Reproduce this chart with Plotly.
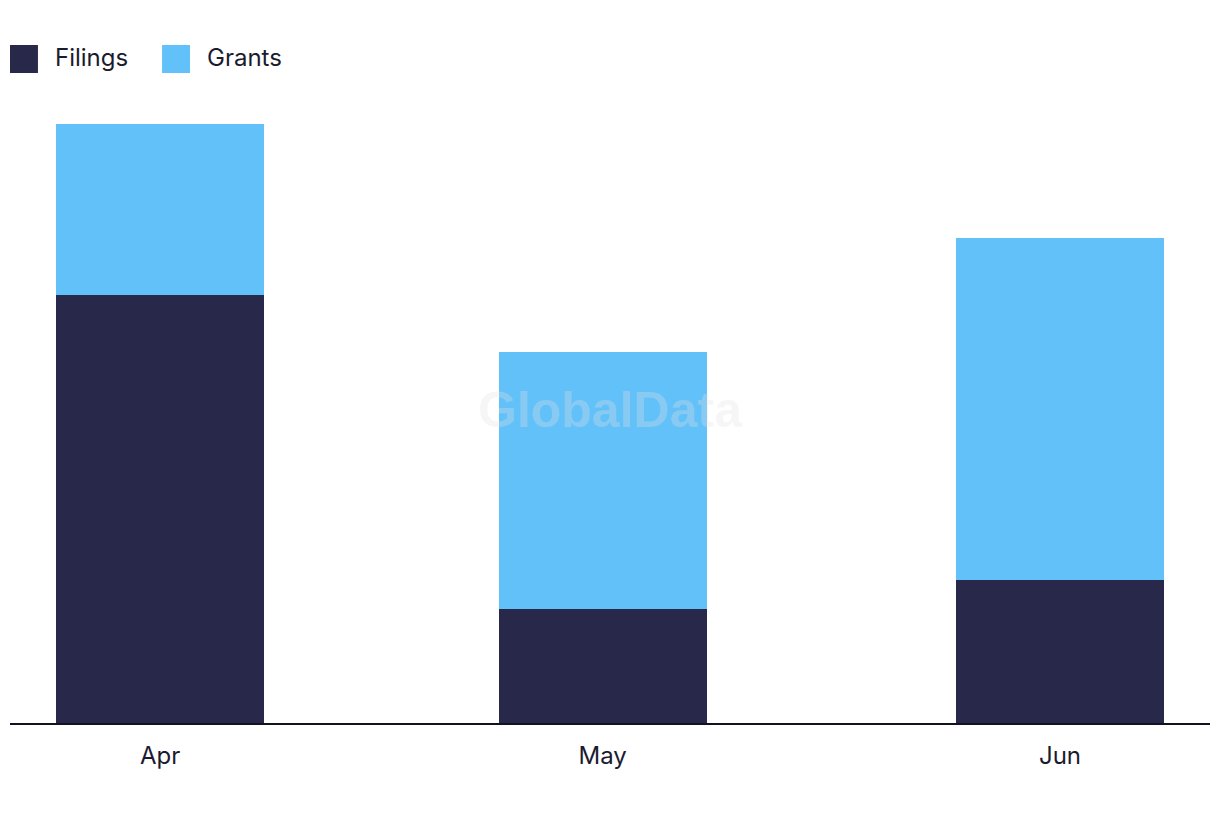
import plotly.graph_objects as go

months = ["2023-04-01", "2023-05-01", "2023-06-01"]
filings = [15, 4, 5]
grants = [6, 9, 12]
series_names = ["Filings", "Grants"]
colors = ["#28284b", "#62c1f9"]

bar_width_ms = 14.1 * 86400000

fig = go.Figure()
fig.add_trace(go.Bar(x=months, y=filings, name=series_names[0], marker_color=colors[0],
                     marker_line_width=0, width=bar_width_ms, showlegend=False))
fig.add_trace(go.Bar(x=months, y=grants, name=series_names[1], marker_color=colors[1],
                     marker_line_width=0, width=bar_width_ms, showlegend=False))

font_family = "Inter, Lato, sans-serif"
text_color = "#1b1b2f"

# manual legend (large square swatches)
legend_x = [0.0, 0.1267]
for i, name in enumerate(series_names):
    fig.add_shape(type="rect", xref="paper", yref="paper",
                  x0=legend_x[i], x1=legend_x[i] + 0.0233, y0=1.0851, y1=1.1319,
                  fillcolor=colors[i], line_width=0)
    fig.add_annotation(xref="paper", yref="paper", x=legend_x[i] + 0.0358, y=1.1118,
                       text=name, showarrow=False, xanchor="left", yanchor="middle",
                       font=dict(family=font_family, size=24, color=text_color))

# watermark
fig.add_annotation(xref="paper", yref="paper", x=0.5, y=0.5225, text="<b>GlobalData</b>",
                   showarrow=False, font=dict(family="Liberation Sans, Arial", size=50,
                                              color="rgba(225,225,225,0.3)"))

fig.update_layout(
    barmode="stack",
    width=1220, height=822,
    margin=dict(l=10, r=10, t=124, b=99),
    plot_bgcolor="white", paper_bgcolor="white",
    font=dict(family=font_family, size=24, color=text_color),
    xaxis=dict(type="date", tickvals=months, tickformat="%b",
               range=["2023-03-21 19:55", "2023-06-11 04:05"],
               showgrid=False, zeroline=False, showline=True, linecolor="#111122", linewidth=2,
               ticks="outside", ticklen=10, tickcolor="rgba(0,0,0,0)",
               tickfont=dict(size=24, color=text_color)),
    yaxis=dict(range=[0, 21], showgrid=False, zeroline=False, showticklabels=False, showline=False),
)

fig.write_html("out.html")
